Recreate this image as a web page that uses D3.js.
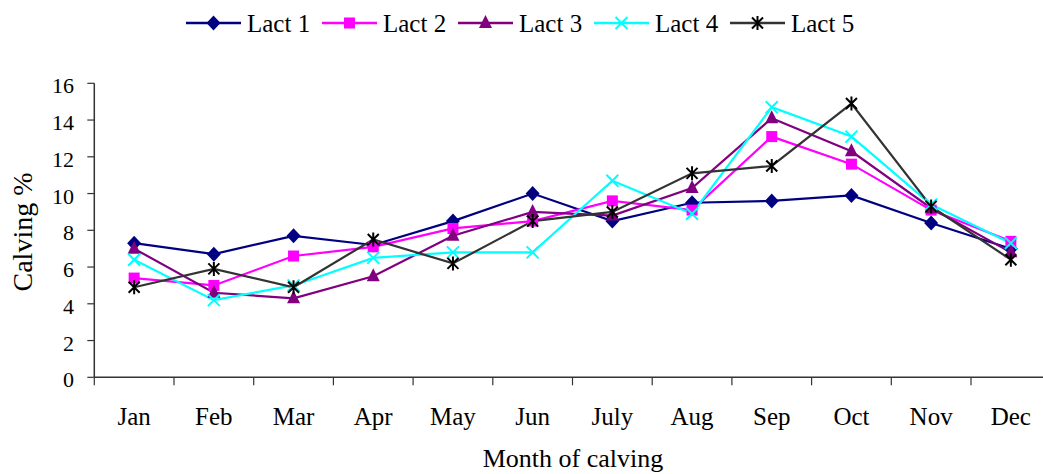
<!DOCTYPE html>
<html>
<head>
<meta charset="utf-8">
<script src="https://cdn.jsdelivr.net/npm/d3@7"></script>
<style>
  html, body { margin: 0; padding: 0; background: #fff; }
  svg { display: block; font-family: "Liberation Serif", "Times New Roman", serif; }
</style>
</head>
<body>
<svg id="chart" width="1043" height="474"></svg>
<script>
const months = ["Jan","Feb","Mar","Apr","May","Jun","July","Aug","Sep","Oct","Nov","Dec"];
const lact1 = [7.3, 6.7, 7.7, 7.2, 8.5, 10.0, 8.5, 9.5, 9.6, 9.9, 8.4, 7.0];
const lact2 = [5.4, 5.0, 6.6, 7.1, 8.1, 8.5, 9.6, 9.1, 13.1, 11.6, 9.1, 7.4];
const lact3 = [7.0, 4.6, 4.3, 5.5, 7.7, 9.0, 8.8, 10.3, 14.1, 12.3, 9.2, 6.8];
const lact4 = [6.4, 4.2, 5.0, 6.5, 6.8, 6.8, 10.7, 8.9, 14.7, 13.1, 9.4, 7.3];
const lact5 = [4.9, 5.9, 4.9, 7.5, 6.2, 8.5, 9.0, 11.1, 11.5, 14.9, 9.3, 6.4];
const seriesNames = ["Lact 1","Lact 2","Lact 3","Lact 4","Lact 5"];
const yTicks = [0, 2, 4, 6, 8, 10, 12, 14, 16];
const xTitle = "Month of calving";
const yTitle = "Calving %";

const series = [
  {name: seriesNames[0], values: lact1, line: "#000080", fill: "#000080", marker: "diamond"},
  {name: seriesNames[1], values: lact2, line: "#FF00FF", fill: "#FF00FF", marker: "square"},
  {name: seriesNames[2], values: lact3, line: "#800080", fill: "#800080", marker: "triangle"},
  {name: seriesNames[3], values: lact4, line: "#00FFFF", fill: "#00FFFF", marker: "x"},
  {name: seriesNames[4], values: lact5, line: "#333333", fill: "#000000", marker: "star"}
];

const svg = d3.select("#chart");
const pLeft = 94.3, pRight = 1050.7, pTop = 83.3, pBottom = 377.3;

const x = d3.scaleBand().domain(months).range([pLeft, pRight]).padding(0);
const y = d3.scaleLinear().domain([0, 16]).range([pBottom, pTop]);
const cx = m => x(m) + x.bandwidth() / 2;

// axes
const axisColor = "#333";
svg.append("line").attr("x1", pLeft).attr("x2", pRight).attr("y1", y(0)).attr("y2", y(0))
  .attr("stroke", axisColor).attr("stroke-width", 1.5);
svg.append("line").attr("x1", pLeft).attr("x2", pLeft).attr("y1", y(16)).attr("y2", y(0))
  .attr("stroke", axisColor).attr("stroke-width", 1.5);

// x ticks at band boundaries
const bounds = months.map(m => x(m)).concat([pRight]);
svg.append("g").selectAll("line").data(bounds).join("line")
  .attr("x1", d => d).attr("x2", d => d)
  .attr("y1", y(0)).attr("y2", y(0) + 8)
  .attr("stroke", axisColor).attr("stroke-width", 1.2);

// y ticks
svg.append("g").selectAll("line").data(yTicks).join("line")
  .attr("x1", pLeft - 7).attr("x2", pLeft)
  .attr("y1", d => y(d)).attr("y2", d => y(d))
  .attr("stroke", axisColor).attr("stroke-width", 1.2);
svg.append("g").selectAll("text").data(yTicks).join("text")
  .attr("x", 74).attr("y", d => y(d) + 10)
  .attr("text-anchor", "end").attr("font-size", 22).attr("fill", "#000")
  .text(d => d);

// x labels
svg.append("g").selectAll("text").data(months).join("text")
  .attr("x", d => cx(d)).attr("y", 425)
  .attr("text-anchor", "middle").attr("font-size", 25).attr("fill", "#000")
  .text(d => d);

// axis titles
svg.append("text").attr("x", 573).attr("y", 467).attr("text-anchor", "middle")
  .attr("font-size", 26).attr("fill", "#000").text(xTitle);
svg.append("text").attr("transform", "translate(32,232) rotate(-90)")
  .attr("text-anchor", "middle").attr("font-size", 28).attr("fill", "#000").text(yTitle);

// marker drawing
function drawMarker(g, type, color, fill) {
  if (type === "diamond") {
    g.append("path").attr("d", "M0,-7.5L7,0L0,7.5L-7,0Z").attr("fill", fill);
  } else if (type === "square") {
    g.append("rect").attr("x", -5.5).attr("y", -5.5).attr("width", 11).attr("height", 11).attr("fill", fill);
  } else if (type === "triangle") {
    g.append("path").attr("d", "M0,-8L6.5,5L-6.5,5Z").attr("fill", fill);
  } else if (type === "x") {
    g.append("path").attr("d", "M-6,-6L6,6M-6,6L6,-6").attr("stroke", fill).attr("stroke-width", 2).attr("fill", "none");
  } else if (type === "star") {
    g.append("path").attr("d", "M-5.5,-5.5L5.5,5.5M-5.5,5.5L5.5,-5.5M0,-7L0,7").attr("stroke", fill).attr("stroke-width", 2).attr("fill", "none");
  }
}

const line = d3.line().x((d, i) => cx(months[i])).y(d => y(d));

series.forEach(s => {
  svg.append("path").datum(s.values).attr("d", line)
    .attr("fill", "none").attr("stroke", s.line).attr("stroke-width", 2.2);
});
series.forEach(s => {
  svg.append("g").selectAll("g").data(s.values).join("g")
    .attr("transform", (d, i) => `translate(${cx(months[i])},${y(d)})`)
    .each(function() { drawMarker(d3.select(this), s.marker, s.line, s.fill); });
});

// legend
const legendX = [186, 322, 458, 594, 730];
series.forEach((s, i) => {
  const g = svg.append("g").attr("transform", `translate(${legendX[i]},23)`);
  g.append("line").attr("x1", 0).attr("x2", 55).attr("y1", 0).attr("y2", 0)
    .attr("stroke", s.line).attr("stroke-width", 2.5);
  const mg = g.append("g").attr("transform", "translate(27.5,0)");
  drawMarker(mg, s.marker, s.line, s.fill);
  g.append("text").attr("x", 61).attr("y", 9).attr("font-size", 25).attr("fill", "#000").text(s.name);
});
</script>
</body>
</html>
